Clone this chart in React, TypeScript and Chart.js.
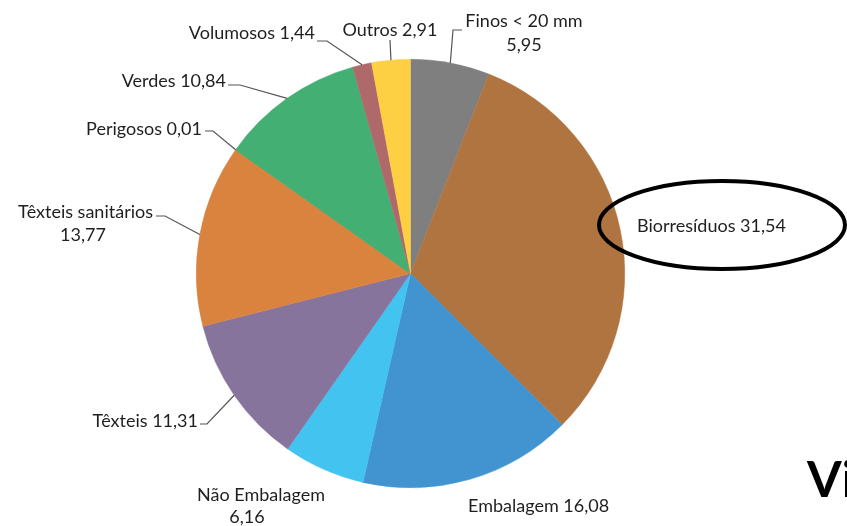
import React, { useEffect, useRef } from "react";
import { Chart, registerables } from "chart.js";

Chart.register(...registerables);

const categories = [
  "Finos < 20 mm",
  "Biorresíduos",
  "Embalagem",
  "Não Embalagem",
  "Têxteis",
  "Têxteis sanitários",
  "Perigosos",
  "Verdes",
  "Volumosos",
  "Outros",
];
const values = [5.95, 31.54, 16.08, 6.16, 11.31, 13.77, 0.01, 10.84, 1.44, 2.91];
const colors = [
  "#7f7f7f",
  "#b07441",
  "#4194d0",
  "#42c3f0",
  "#86749d",
  "#da833f",
  "#43af73",
  "#43af73",
  "#b0696a",
  "#fdcf43",
];

type Line = { x: number; y: number; align: CanvasTextAlign; part: "name" | "value" | "both" };
type Layout = { lines: Line[]; leader: number[][] | null };

const labelLayout: Layout[] = [
  { lines: [{ x: 524, y: 21, align: "center", part: "name" }, { x: 524, y: 45, align: "center", part: "value" }], leader: [[453, 30], [462, 30]] },
  { lines: [{ x: 637, y: 226, align: "left", part: "both" }], leader: null },
  { lines: [{ x: 468, y: 506, align: "left", part: "both" }], leader: null },
  { lines: [{ x: 261, y: 495, align: "center", part: "name" }, { x: 247, y: 517, align: "center", part: "value" }], leader: null },
  { lines: [{ x: 198, y: 421, align: "right", part: "both" }], leader: [[207, 424], [200, 424]] },
  { lines: [{ x: 153, y: 212, align: "right", part: "name" }, { x: 83, y: 235, align: "center", part: "value" }], leader: [[165, 216], [156, 216]] },
  { lines: [{ x: 202, y: 129, align: "right", part: "both" }], leader: [[213, 131], [205, 131]] },
  { lines: [{ x: 226, y: 81, align: "right", part: "both" }], leader: [[240, 85], [228, 85]] },
  { lines: [{ x: 315, y: 33, align: "right", part: "both" }], leader: [[327, 41], [317, 41]] },
  { lines: [{ x: 390, y: 30, align: "center", part: "both" }], leader: [[390, 40]] },
];

const fmt = (v: number) => v.toFixed(2).replace(".", ",");

const labelPlugin = {
  id: "pieLabels",
  afterDraw(chart: any) {
    const ctx = chart.ctx as CanvasRenderingContext2D;
    const meta = chart.getDatasetMeta(0);
    ctx.save();
    meta.data.forEach((el: any, i: number) => {
      const lay = labelLayout[i];
      const p = el.getProps(["x", "y", "startAngle", "endAngle", "outerRadius"], true);
      const mid = (p.startAngle + p.endAngle) / 2;
      const ex = p.x + Math.cos(mid) * p.outerRadius;
      const ey = p.y + Math.sin(mid) * p.outerRadius;
      if (lay.leader) {
        ctx.beginPath();
        ctx.moveTo(ex, ey);
        lay.leader.forEach((pt) => ctx.lineTo(pt[0], pt[1]));
        ctx.strokeStyle = "#555555";
        ctx.lineWidth = 1.2;
        ctx.stroke();
      }
      ctx.fillStyle = "#1f1f1f";
      ctx.font = "18px Lato, 'Noto Sans', sans-serif";
      ctx.textBaseline = "middle";
      lay.lines.forEach((ln) => {
        const text =
          ln.part === "name"
            ? categories[i]
            : ln.part === "value"
            ? fmt(values[i])
            : categories[i] + " " + fmt(values[i]);
        ctx.textAlign = ln.align;
        ctx.fillText(text, ln.x, ln.y);
      });
    });
    // highlight ellipse
    ctx.beginPath();
    ctx.ellipse(722, 225, 123, 44, 0, 0, Math.PI * 2);
    ctx.strokeStyle = "#000";
    ctx.lineWidth = 4;
    ctx.stroke();
    // cut-off title text
    ctx.fillStyle = "#000";
    ctx.font = "bold 50px Lato, 'Noto Sans', sans-serif";
    ctx.textAlign = "left";
    ctx.textBaseline = "alphabetic";
    ctx.fillText("Vi", 807, 497);
    ctx.restore();
  },
};

export default function App() {
  const ref = useRef<HTMLCanvasElement>(null);
  useEffect(() => {
    if (!ref.current) return;
    const chart = new Chart(ref.current, {
      type: "pie",
      data: {
        labels: categories,
        datasets: [
          {
            data: values,
            backgroundColor: colors,
            borderColor: colors,
            borderWidth: 0.5,
          },
        ],
      },
      options: {
        responsive: false,
        animation: false,
        layout: { padding: { top: 59, bottom: 38, left: 196, right: 222 } },
        plugins: { legend: { display: false }, tooltip: { enabled: false } },
      },
      plugins: [labelPlugin],
    });
    return () => chart.destroy();
  }, []);
  return (
    <div style={{ position: "absolute", left: 0, top: 0, width: 847, height: 526, background: "#fff" }}>
      <canvas ref={ref} width={847} height={526} />
    </div>
  );
}
